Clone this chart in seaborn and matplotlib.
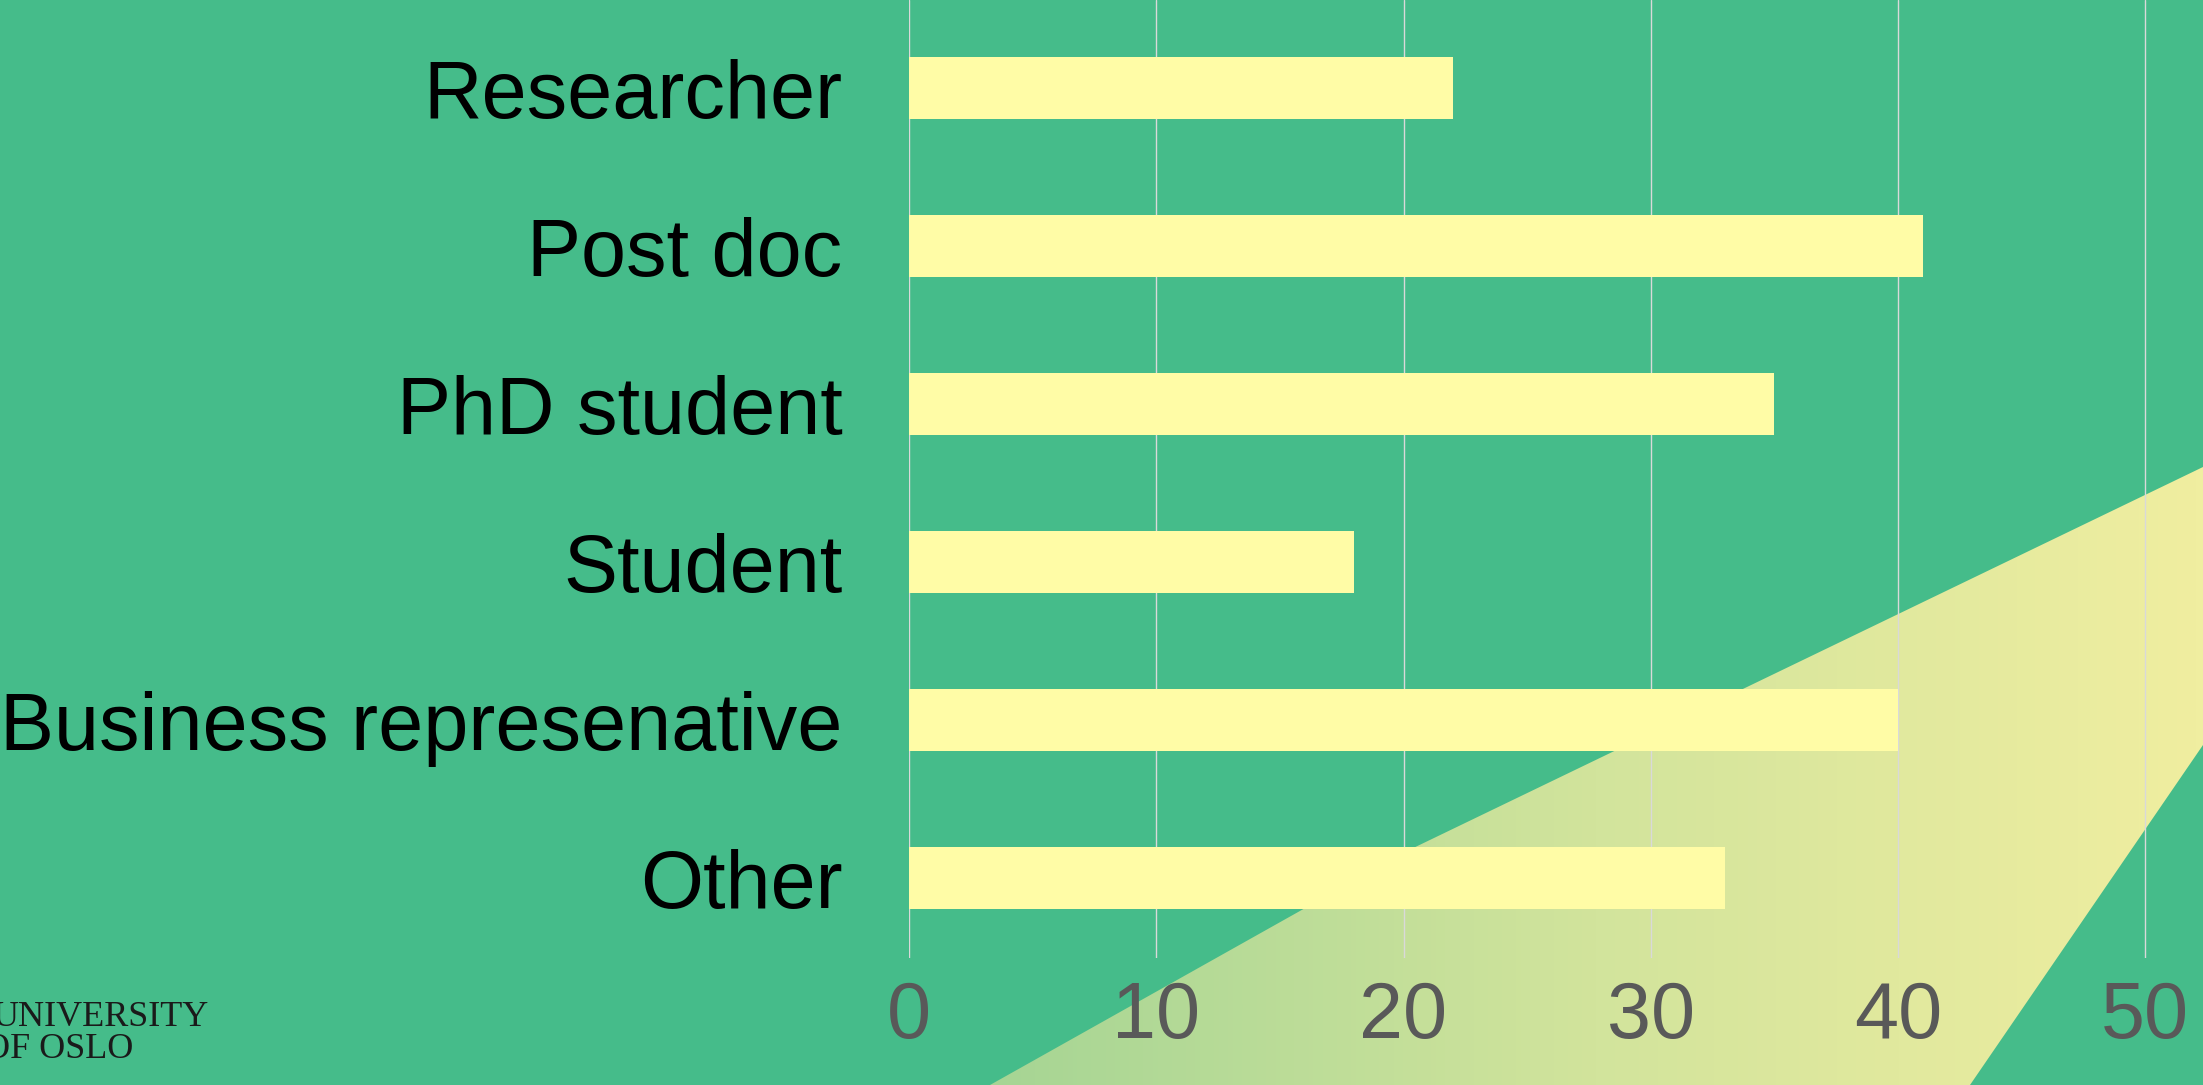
import numpy as np
import matplotlib
matplotlib.use("Agg")
import matplotlib.pyplot as plt
from matplotlib.patches import Polygon
from matplotlib.colors import LinearSegmentedColormap
import seaborn as sns

# data
categories = ["Researcher", "Post doc", "PhD student", "Student",
              "Business represenative", "Other"]
values = [22, 41, 35, 18, 40, 33]
x_ticks = [0, 10, 20, 30, 40, 50]

bg_green = "#45bc8a"
bar_yellow = "#fffca6"
grid_col = "#d9d9d9"
tick_gray = "#595959"

sns.set_style("whitegrid")
plt.rcParams["font.family"] = ["Liberation Sans", "DejaVu Sans"]

W, H = 2203, 1085
fig = plt.figure(figsize=(W / 100, H / 100), dpi=100, facecolor=bg_green)

# decorative light wedge in the background (pixel coords of the figure)
bg = fig.add_axes([0, 0, 1, 1], zorder=0)
bg.set_xlim(0, W)
bg.set_ylim(H, 0)
bg.axis("off")
wedge = Polygon([(990, 1085), (1405, 852), (2203, 467), (2203, 745), (1970, 1085)],
                closed=True, facecolor="none", edgecolor="none")
bg.add_patch(wedge)
cmap = LinearSegmentedColormap.from_list("wedge", ["#a6d594", "#d2e49c", "#f0eea0"])
grad = np.linspace(0, 1, 256).reshape(1, -1)
img = bg.imshow(grad, cmap=cmap, aspect="auto", extent=[990, 2203, 1085, 467],
                interpolation="bicubic")
img.set_clip_path(wedge)

# main chart
left_px, bottom_px = 909, 958
ax = fig.add_axes([left_px / W, 1 - bottom_px / H, 1 - left_px / W, bottom_px / H],
                  zorder=1)
ax.set_facecolor("none")

sns.barplot(x=values, y=categories, orient="h", color=bar_yellow,
            saturation=1, width=0.39, linewidth=0, ax=ax)

ax.set_xlim(0, (W - left_px) / 24.725)
ax.set_ylim(5.506, -0.557)
ax.set_xticks(x_ticks)
ax.set_xticklabels([str(t) for t in x_ticks])
ax.set_xlabel("")
ax.set_ylabel("")

ax.set_axisbelow(True)
ax.grid(axis="x", color=grid_col, linewidth=1.0)
ax.grid(axis="y", visible=False)
for s in ax.spines.values():
    s.set_visible(False)

ax.tick_params(axis="x", length=0, pad=16, labelsize=57, labelcolor=tick_gray)
ax.tick_params(axis="y", length=0, pad=48, labelsize=58.3, labelcolor="black")

# logo text, bottom left
fig.text(-8 / W, 1 - 1026 / H, "UNIVERSITY", family=["Liberation Serif", "DejaVu Serif"],
         fontsize=26, color="#1a1a1a", ha="left", va="baseline")
fig.text(-16 / W, 1 - 1058 / H, "OF OSLO", family=["Liberation Serif", "DejaVu Serif"],
         fontsize=26, color="#1a1a1a", ha="left", va="baseline")

fig.savefig("out.png", dpi=100, facecolor=bg_green)
